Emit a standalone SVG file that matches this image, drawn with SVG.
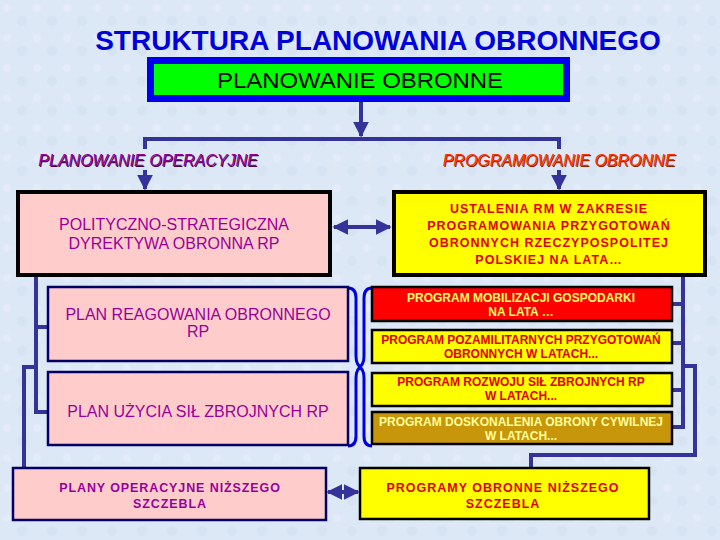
<svg xmlns="http://www.w3.org/2000/svg" width="720" height="540" viewBox="0 0 720 540">
<defs>
<marker id="ah" viewBox="0 0 10 10" refX="9" refY="5" markerWidth="4" markerHeight="4" orient="auto-start-reverse"><path d="M0,0 L10,5 L0,10 z" fill="#333399"/></marker>
<pattern id="tex" width="30" height="30" patternUnits="userSpaceOnUse"><rect width="30" height="30" fill="#DCE8F5"/><circle cx="7" cy="8" r="4" fill="#E3ECF8"/><circle cx="22" cy="21" r="5" fill="#D6E3F2"/></pattern>
</defs>
<style>
text{font-family:"Liberation Sans",Arial,sans-serif;text-anchor:middle}
.con{fill:none;stroke:#333399;stroke-width:4}
.arr{fill:none;stroke:#333399;stroke-width:4;marker-end:url(#ah)}
.arr2{fill:none;stroke:#333399;stroke-width:4;marker-end:url(#ah);marker-start:url(#ah)}
.brace{fill:none;stroke:#0000DD;stroke-width:3}
.pinkB{fill:#FFCCCC;stroke:#000;stroke-width:4}
.pink{fill:#FFCCCC;stroke:#000066;stroke-width:2.5}
.yelB{fill:#FFFF00;stroke:#000;stroke-width:4}
.small{stroke:#000;stroke-width:2.5}
.pt{fill:#990099;font-size:16px}
.pb{fill:#990099;font-size:12.5px;font-weight:bold;letter-spacing:0.9px}
.rt{fill:#E00000;font-size:12.5px;font-weight:bold;letter-spacing:1px}
.st{font-size:12px;font-weight:bold}
.lab{font-size:16px;font-style:italic}
</style>
<rect width="720" height="540" fill="url(#tex)"/>
<text id="title" x="378" y="50" fill="#0000DD" font-size="28" font-weight="bold">STRUKTURA PLANOWANIA OBRONNEGO</text>
<g id="connectors">
<path class="arr" d="M361,102 V136"/>
<path class="con" d="M145,149 V139 H559 V149"/>
<path class="arr" d="M145,170 V189"/>
<path class="arr" d="M559,170 V189"/>
<path class="arr2" d="M334,227 H390"/>
<path class="arr2" d="M328,492 H358"/>
<path class="con" d="M36,277 V412 H48 M36,327 H48 M36,367 H24 V468"/>
<path class="con" d="M683,277 V427 H672 M672,304 H683 M672,343 H683 M672,390 H683 M683,366 H695 V455 H531 V468"/>
<path class="brace" d="M348,288 Q356,288 356,298 V356 Q356,366 362,367 Q356,368 356,378 V436 Q356,446 348,446"/>
<path class="brace" d="M372,288 Q364,288 364,298 V356 Q364,366 358,367 Q364,368 364,378 V436 Q364,446 372,446"/>
</g>
<g id="n-planowanie">
<rect x="150.5" y="60.5" width="416" height="38" fill="#00FF00" stroke="#0000EE" stroke-width="7"/>
<text x="360" y="88" font-size="22" fill="#000" textLength="286" lengthAdjust="spacingAndGlyphs">PLANOWANIE OBRONNE</text>
</g>
<g id="l-operacyjne">
<text class="lab" x="149" y="167" fill="#440044">PLANOWANIE OPERACYJNE</text>
<text class="lab" x="148" y="166" fill="#990099">PLANOWANIE OPERACYJNE</text>
</g>
<g id="l-programowanie">
<text class="lab" x="560" y="167" fill="#882200">PROGRAMOWANIE OBRONNE</text>
<text class="lab" x="559" y="166" fill="#FF3300">PROGRAMOWANIE OBRONNE</text>
</g>
<g id="n-dyrektywa">
<rect class="pinkB" x="18" y="192" width="312" height="83"/>
<text class="pt" x="174" y="230">POLITYCZNO-STRATEGICZNA</text>
<text class="pt" x="174" y="249">DYREKTYWA OBRONNA RP</text>
</g>
<g id="n-ustalenia">
<rect class="yelB" x="394" y="192" width="311" height="83"/>
<text class="rt" x="549" y="213">USTALENIA RM W  ZAKRESIE</text>
<text class="rt" x="549" y="230">PROGRAMOWANIA PRZYGOTOWAŃ</text>
<text class="rt" x="549" y="247">OBRONNYCH RZECZYPOSPOLITEJ</text>
<text class="rt" x="549" y="264">POLSKIEJ NA LATA…</text>
</g>
<g id="n-reagowania">
<rect class="pink" x="48" y="287" width="300" height="74"/>
<text class="pt" x="198" y="320">PLAN REAGOWANIA OBRONNEGO</text>
<text class="pt" x="198" y="337">RP</text>
</g>
<g id="n-uzycia">
<rect class="pink" x="48" y="372" width="300" height="73"/>
<text class="pt" x="198" y="417">PLAN UŻYCIA SIŁ ZBROJNYCH RP</text>
</g>
<g id="n-plany">
<rect class="pink" x="13" y="468" width="313" height="52"/>
<text class="pb" x="170" y="492">PLANY OPERACYJNE NIŻSZEGO</text>
<text class="pb" x="170" y="508">SZCZEBLA</text>
</g>
<g id="n-mobilizacji">
<rect class="small" x="372" y="287" width="300" height="34" fill="#FF0000"/>
<text class="st" x="521" y="302" fill="#FFFF66">PROGRAM MOBILIZACJI GOSPODARKI</text>
<text class="st" x="521" y="316" fill="#FFFF66">NA LATA …</text>
</g>
<g id="n-pozamilitarnych">
<rect class="small" x="372" y="330" width="300" height="33" fill="#FFFF00"/>
<text class="st" x="521" y="344" fill="#E00000">PROGRAM POZAMILITARNYCH PRZYGOTOWAŃ</text>
<text class="st" x="521" y="358" fill="#E00000">OBRONNYCH W LATACH...</text>
</g>
<g id="n-rozwoju">
<rect class="small" x="372" y="373" width="300" height="33" fill="#FFFF00"/>
<text class="st" x="521" y="386" fill="#E00000">PROGRAM ROZWOJU SIŁ ZBROJNYCH RP</text>
<text class="st" x="521" y="400" fill="#E00000">W LATACH...</text>
</g>
<g id="n-doskonalenia">
<rect class="small" x="372" y="412" width="300" height="32" fill="#C8960A"/>
<text class="st" x="521" y="426" fill="#FFFF99">PROGRAM DOSKONALENIA OBRONY CYWILNEJ</text>
<text class="st" x="521" y="440" fill="#FFFF99">W LATACH...</text>
</g>
<g id="n-programy">
<rect class="small" x="360" y="468" width="289" height="51" fill="#FFFF00"/>
<text class="rt" x="503" y="492">PROGRAMY OBRONNE NIŻSZEGO</text>
<text class="rt" x="503" y="508">SZCZEBLA</text>
</g>
</svg>
